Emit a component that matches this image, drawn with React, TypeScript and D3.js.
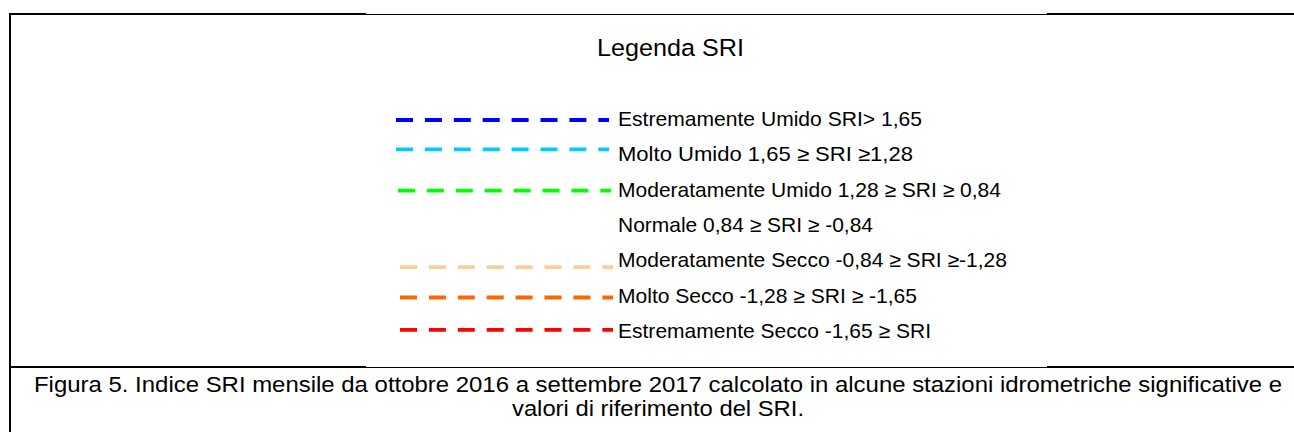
import React from "react";
import * as d3 from "d3";

const legendLabels = [
  "Estremamente Umido SRI> 1,65",
  "Molto Umido 1,65 ≥ SRI ≥1,28",
  "Moderatamente Umido 1,28 ≥ SRI ≥ 0,84",
  "Normale 0,84 ≥ SRI ≥ -0,84",
  "Moderatamente Secco -0,84 ≥ SRI ≥-1,28",
  "Molto Secco -1,28 ≥ SRI ≥ -1,65",
  "Estremamente Secco -1,65 ≥ SRI",
];
const legendColors = ["#0000ff", "#00ccff", "#00ff00", null, "#ffcc99", "#ff6600", "#ff0000"];
const titleText = "Legenda SRI";
const captionLines = [
  "Figura 5. Indice SRI mensile da ottobre 2016 a settembre 2017 calcolato in alcune stazioni idrometriche significative e",
  "valori di riferimento del SRI.",
];

// style-only: rendered text widths and line placement tweaks
const legendTextWidths = [304, 295, 383, 255, 389, 299, 313];
const captionWidths = [1248, 292];
const lineDy = [-6, -12, -6, 0, 0, -5, -8];
const lineX0 = [396, 396, 398, 400, 400, 400, 400];

const W = 1294;
const H = 432;
const FONT = "'Liberation Sans', Arial, sans-serif";

export default function App() {
  const rowY = d3
    .scalePoint<number>()
    .domain(d3.range(legendLabels.length))
    .range([126, 126 + 35.3 * (legendLabels.length - 1)]);
  const lineLen = 213;

  return (
    <svg
      width={W}
      height={H}
      style={{ position: "absolute", left: 0, top: 0, background: "#fff" }}
    >
      <rect x={0} y={0} width={W} height={H} fill="#fff" />
      {/* frame */}
      <g stroke="#000">
        <rect x={9} y={13} width={357} height={2} fill="#000" stroke="none" />
        <rect x={366} y={14} width={681} height={1} fill="#000" stroke="none" />
        <rect x={1047} y={13} width={W - 1047} height={2} fill="#000" stroke="none" />
        <rect x={9} y={13} width={2} height={H - 13} fill="#000" stroke="none" />
        <rect x={9} y={366} width={357} height={2} fill="#000" stroke="none" />
        <rect x={366} y={367} width={681} height={1} fill="#000" stroke="none" />
        <rect x={1047} y={366} width={W - 1047} height={2} fill="#000" stroke="none" />
      </g>

      <text
        x={597}
        y={56}
        fontFamily={FONT}
        fontSize={24.5}
        fill="#000"
        textLength={147}
        lengthAdjust="spacingAndGlyphs"
      >
        {titleText}
      </text>

      {legendLabels.map((lab, i) => {
        const y = rowY(i)!;
        const c = legendColors[i];
        return (
          <g key={i}>
            {c && (
              <line
                x1={lineX0[i]}
                x2={lineX0[i] + lineLen}
                y1={y + lineDy[i]}
                y2={y + lineDy[i]}
                stroke={c}
                strokeWidth={3.8}
                strokeDasharray="17 11.9"
              />
            )}
            <text
              x={618}
              y={y}
              fontFamily={FONT}
              fontSize={20.6}
              fill="#000"
              textLength={legendTextWidths[i]}
              lengthAdjust="spacingAndGlyphs"
            >
              {lab}
            </text>
          </g>
        );
      })}

      {captionLines.map((t, i) => (
        <text
          key={i}
          x={658 - captionWidths[i] / 2}
          y={392 + i * 23.5}
          fontFamily={FONT}
          fontSize={21.5}
          fill="#000"
          textLength={captionWidths[i]}
          lengthAdjust="spacingAndGlyphs"
        >
          {t}
        </text>
      ))}
    </svg>
  );
}
